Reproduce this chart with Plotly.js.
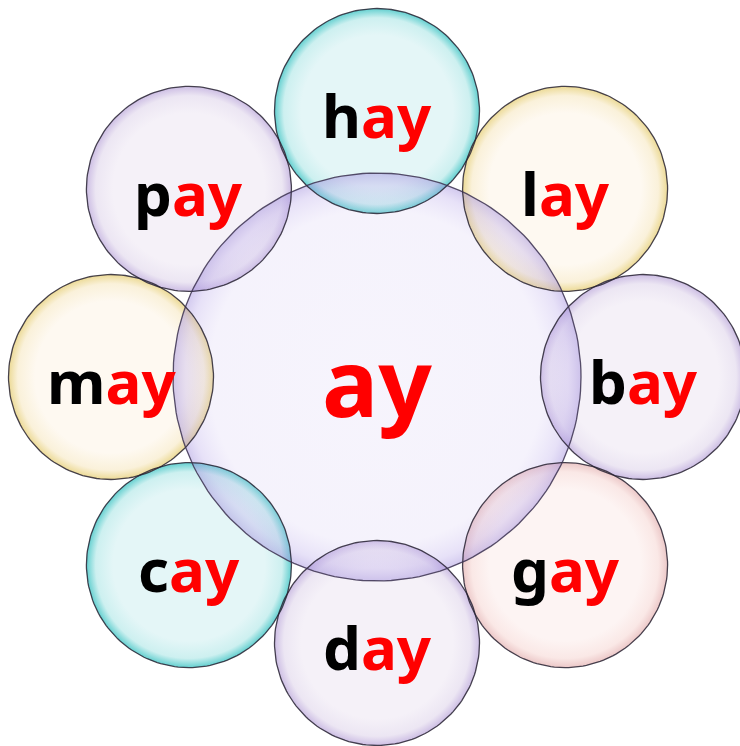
<!DOCTYPE html>
<html>
<head>
<meta charset="utf-8">
<script src="https://cdn.plot.ly/plotly-3.0.1.min.js"></script>
<style>html,body{margin:0;padding:0;background:#fff;}#chart{width:740px;height:746px;}</style>
</head>
<body>
<div id="chart"></div>
<script>
// ---- data ----
var words   = ['hay', 'lay', 'bay', 'gay', 'day', 'cay', 'may', 'pay'];
var onsets  = ['h', 'l', 'b', 'g', 'd', 'c', 'm', 'p'];
var rime    = 'ay';
var tints   = ['cyan', 'yellow', 'lilac', 'pink', 'lilac', 'cyan', 'yellow', 'lilac'];

// ---- styles ----
var palette = {
  cyan:   {inner: 'rgb(228,246,247)', mid: 'rgb(205,240,240)', edge: 'rgb(100,208,208)'},
  yellow: {inner: 'rgb(254,249,241)', mid: 'rgb(250,241,218)', edge: 'rgb(236,218,150)'},
  lilac:  {inner: 'rgb(245,241,248)', mid: 'rgb(236,230,243)', edge: 'rgb(205,190,228)'},
  pink:   {inner: 'rgb(253,244,243)', mid: 'rgb(250,232,230)', edge: 'rgb(236,200,200)'}
};
var W = 740, H = 746;
var cx = 377, cy = 377;
var ringR = 266, bubbleR = 102.5, centerR = 204;

function circlePts(x0, y0, r) {
  var xs = [], ys = [];
  for (var k = 0; k <= 180; k++) {
    var t = 2 * Math.PI * k / 180;
    xs.push(x0 + r * Math.cos(t));
    ys.push(y0 + r * Math.sin(t));
  }
  return {x: xs, y: ys};
}

var traces = [], outlines = [], annotations = [];
var centers = words.map(function (w, i) {
  var a = (i * 45) * Math.PI / 180;
  return {x: cx + ringR * Math.sin(a), y: cy - ringR * Math.cos(a)};
});

words.forEach(function (w, i) {
  var c = centers[i], p = palette[tints[i]];
  var pts = circlePts(c.x, c.y, bubbleR);
  traces.push({
    type: 'scatter', mode: 'none', x: pts.x, y: pts.y, fill: 'toself',
    fillcolor: p.inner,
    fillgradient: {type: 'radial', colorscale: [[0, p.inner], [0.74, p.inner], [0.91, p.mid], [1, p.edge]]},
    hoverinfo: 'skip', showlegend: false
  });
  outlines.push({
    type: 'scatter', mode: 'lines', x: pts.x, y: pts.y,
    line: {color: 'rgba(40,35,50,0.85)', width: 1.3},
    hoverinfo: 'skip', showlegend: false
  });
  annotations.push({
    x: c.x, y: c.y + 4, xref: 'x', yref: 'y', showarrow: false,
    xanchor: 'center', yanchor: 'middle',
    text: '<span style="color:#000000">' + onsets[i] + '</span><span style="color:#ff0000">' + rime + '</span>',
    font: {family: 'Noto Sans, Open Sans, sans-serif', size: 60, weight: 'bold', color: '#000'}
  });
});

// central bubble (translucent)
var cp = circlePts(cx, cy, centerR);
traces.push({
  type: 'scatter', mode: 'none', x: cp.x, y: cp.y, fill: 'toself',
  fillcolor: 'rgba(205,192,240,0.2)',
  fillgradient: {type: 'radial', colorscale: [[0, 'rgba(208,196,242,0.18)'], [0.82, 'rgba(205,192,240,0.2)'], [0.94, 'rgba(180,162,232,0.32)'], [1, 'rgba(155,135,218,0.45)']]},
  hoverinfo: 'skip', showlegend: false
});
outlines.push({
  type: 'scatter', mode: 'lines', x: cp.x, y: cp.y,
  line: {color: 'rgba(60,50,80,0.85)', width: 1.3},
  hoverinfo: 'skip', showlegend: false
});
annotations.push({
  x: cx, y: cy + 4, xref: 'x', yref: 'y', showarrow: false,
  xanchor: 'center', yanchor: 'middle',
  text: rime,
  font: {family: 'Noto Sans, Open Sans, sans-serif', size: 94, weight: 'bold', color: '#ff0000'}
});

var layout = {
  width: W, height: H,
  margin: {l: 0, r: 0, t: 0, b: 0},
  paper_bgcolor: '#ffffff', plot_bgcolor: '#ffffff',
  xaxis: {range: [0, W], visible: false, fixedrange: true},
  yaxis: {range: [H, 0], visible: false, fixedrange: true},
  showlegend: false,
  annotations: annotations
};

Plotly.newPlot('chart', traces.concat(outlines), layout, {staticPlot: true, displayModeBar: false});
</script>
</body>
</html>
